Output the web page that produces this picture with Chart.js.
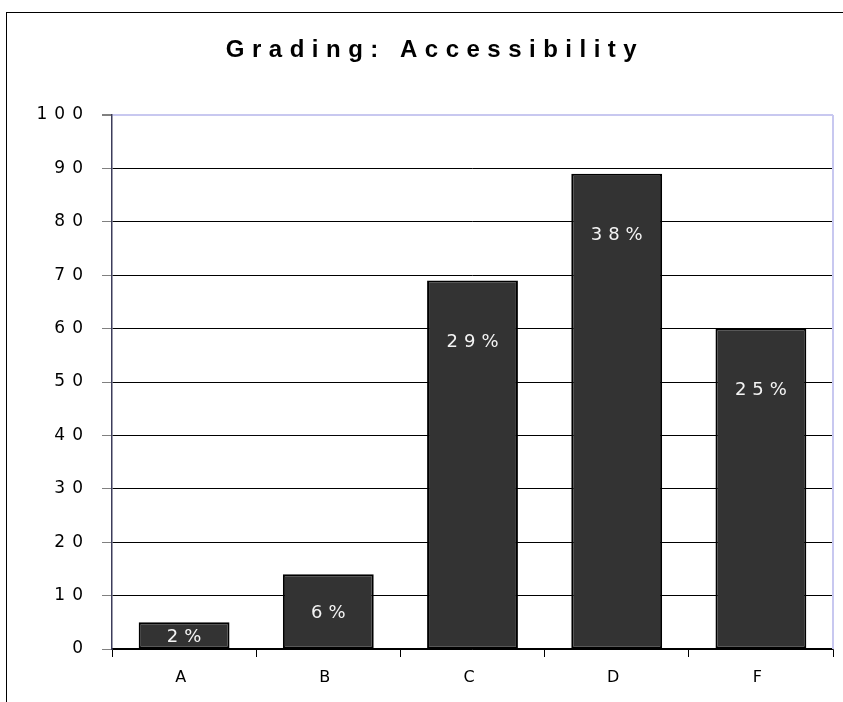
<!DOCTYPE html>
<html>
<head>
<meta charset="utf-8">
<title>Grading: Accessibility</title>
<script src="https://cdn.jsdelivr.net/npm/chart.js@4/dist/chart.umd.min.js"></script>
<style>
  html, body { margin: 0; padding: 0; background: #fff; overflow: hidden; }
  #wrap { position: relative; width: 843px; height: 702px; }
  #frame { position: absolute; left: 6px; top: 12px; width: 850px; height: 700px;
           border-top: 1px solid #000; border-left: 1px solid #000; pointer-events: none; }
  canvas { position: absolute; left: 0; top: 0; }
</style>
</head>
<body>
<div id="wrap">
  <canvas id="chart" width="843" height="702"></canvas>
  <div id="frame"></div>
</div>
<script>
const titleText = 'Grading: Accessibility';
const grades = ['A', 'B', 'C', 'D', 'F'];
const counts = [5, 14, 69, 89, 60];
const percentLabels = ['2%', '6%', '29%', '38%', '25%'];
const yTicks = [0, 10, 20, 30, 40, 50, 60, 70, 80, 90, 100];

// spaced-out text like the old Excel export
const spacedText = {
  id: 'spacedText',
  beforeDraw(chart) {
    chart.ctx.letterSpacing = '7px';
  },
  afterDraw(chart) {
    const { ctx, chartArea } = chart;
    ctx.save();

    // light border on the right of the plot area
    ctx.strokeStyle = '#c8c8f0';
    ctx.lineWidth = 2;
    ctx.beginPath();
    ctx.moveTo(chartArea.right, chartArea.top);
    ctx.lineTo(chartArea.right, chartArea.bottom);
    ctx.stroke();

    // title
    ctx.letterSpacing = '7.5px';
    ctx.fillStyle = '#000';
    ctx.font = 'bold 24px "Liberation Sans", Arial, sans-serif';
    ctx.textAlign = 'center';
    ctx.textBaseline = 'alphabetic';
    ctx.fillText(titleText, 435, 57);

    // labels inside the bars
    const meta = chart.getDatasetMeta(0);
    ctx.font = '18px "DejaVu Sans", sans-serif';
    ctx.letterSpacing = '6px';
    ctx.fillStyle = '#f4f4f4';
    ctx.textBaseline = 'middle';
    meta.data.forEach((bar, i) => {
      const h = bar.base - bar.y;
      const off = Math.min(h / 2 + 2, 62);
      ctx.fillText(percentLabels[i], bar.x + 3, bar.y + off);
    });
    ctx.restore();
    ctx.letterSpacing = '0px';
  }
};

new Chart(document.getElementById('chart'), {
  type: 'bar',
  data: {
    labels: grades,
    datasets: [{
      data: counts,
      backgroundColor: '#333333',
      borderColor: '#000000',
      borderWidth: 2,
      borderSkipped: false,
      barPercentage: 0.63,
      categoryPercentage: 1
    }]
  },
  options: {
    responsive: false,
    animation: false,
    layout: { padding: { top: 115, right: 10, left: 0, bottom: 0 } },
    plugins: {
      legend: { display: false },
      title: { display: false },
      tooltip: { enabled: false }
    },
    scales: {
      x: {
        offset: true,
        afterFit: (s) => { s.height = 53; },
        grid: { offset: true, drawOnChartArea: false, drawTicks: true, tickLength: 8, tickColor: '#000', tickWidth: 1 },
        border: { color: '#000', width: 1.5 },
        ticks: { color: '#000', padding: 11, font: { family: '"DejaVu Sans", sans-serif', size: 16 } }
      },
      y: {
        min: 0,
        max: 100,
        afterFit: (s) => { s.width = 112; },
        afterBuildTicks: (s) => { s.ticks = yTicks.map(v => ({ value: v })); },
        grid: {
          color: (c) => (c.tick && c.tick.value === 100 ? '#c8c8f0' : '#000'),
          lineWidth: (c) => (c.tick && c.tick.value === 100 ? 2 : 1),
          tickLength: 10,
          tickColor: '#808080'
        },
        border: { color: '#3c3c5a', width: 1.5 },
        ticks: { color: '#000', padding: 12, font: { family: '"DejaVu Sans", sans-serif', size: 17 } }
      }
    }
  },
  plugins: [spacedText]
});
</script>
</body>
</html>
